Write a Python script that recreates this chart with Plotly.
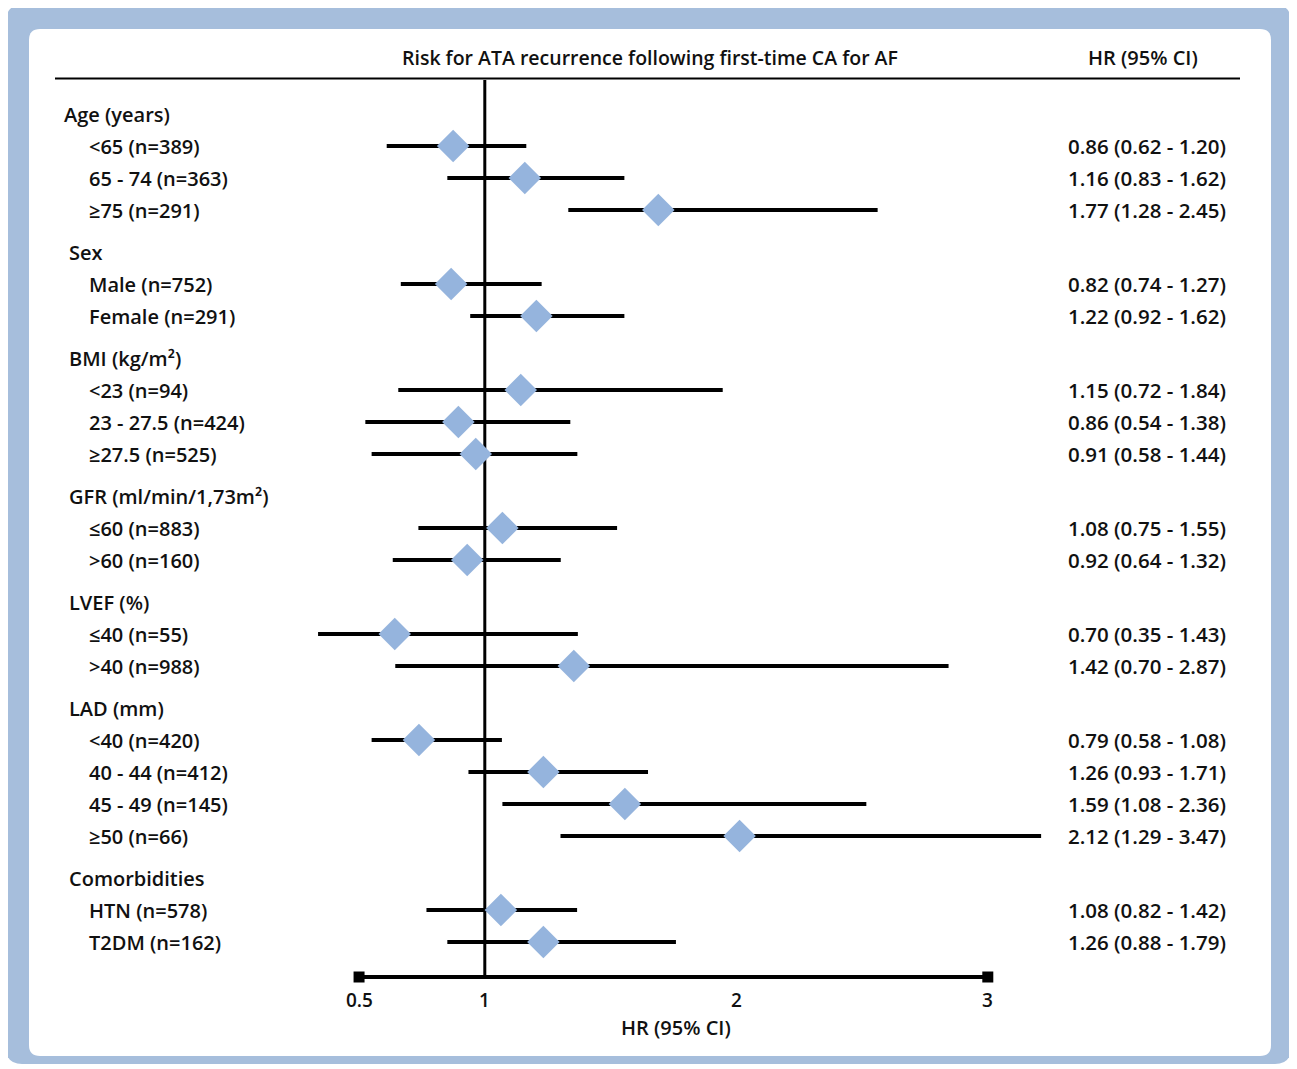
import plotly.graph_objects as go

# page offset of the plot div (browser default body margin)
OX, OY = 8, 8
REF_W, REF_H = 1297, 1069
W, H = REF_W - OX, REF_H - OY

# ---------------- data ----------------
title_text = "Risk for ATA recurrence following first-time CA for AF"
hr_header = "HR (95% CI)"
axis_title = "HR (95% CI)"

group_names = ["Age (years)", "Sex", "BMI (kg/m²)", "GFR (ml/min/1,73m²)",
               "LVEF (%)", "LAD (mm)", "Comorbidities"]
group_sizes = [3, 2, 3, 2, 2, 4, 2]

subgroup_labels = [
    "&lt;65 (n=389)", "65 - 74 (n=363)", "≥75 (n=291)",
    "Male (n=752)", "Female (n=291)",
    "&lt;23 (n=94)", "23 - 27.5 (n=424)", "≥27.5 (n=525)",
    "≤60 (n=883)", "&gt;60 (n=160)",
    "≤40 (n=55)", "&gt;40 (n=988)",
    "&lt;40 (n=420)", "40 - 44 (n=412)", "45 - 49 (n=145)", "≥50 (n=66)",
    "HTN (n=578)", "T2DM (n=162)",
]

# values as drawn on the chart's HR axis
hr_point = [0.874, 1.159, 1.690,
            0.866, 1.205,
            1.143, 0.895, 0.964,
            1.070, 0.930,
            0.642, 1.354,
            0.738, 1.233, 1.557, 2.013,
            1.064, 1.233]
ci_low = [0.610, 0.851, 1.332,
          0.666, 0.942,
          0.656, 0.525, 0.550,
          0.736, 0.634,
          0.337, 0.644,
          0.550, 0.935, 1.070, 1.301,
          0.768, 0.851]
ci_high = [1.165, 1.555, 2.562,
           1.226, 1.555,
           1.946, 1.340, 1.368,
           1.526, 1.302,
           1.370, 2.844,
           1.068, 1.649, 2.517, 3.212,
           1.367, 1.760]

hr_labels = [
    "0.86 (0.62 - 1.20)", "1.16 (0.83 - 1.62)", "1.77 (1.28 - 2.45)",
    "0.82 (0.74 - 1.27)", "1.22 (0.92 - 1.62)",
    "1.15 (0.72 - 1.84)", "0.86 (0.54 - 1.38)", "0.91 (0.58 - 1.44)",
    "1.08 (0.75 - 1.55)", "0.92 (0.64 - 1.32)",
    "0.70 (0.35 - 1.43)", "1.42 (0.70 - 2.87)",
    "0.79 (0.58 - 1.08)", "1.26 (0.93 - 1.71)", "1.59 (1.08 - 2.36)", "2.12 (1.29 - 3.47)",
    "1.08 (0.82 - 1.42)", "1.26 (0.88 - 1.79)",
]

axis_ticks = [0.5, 1, 2, 3]
axis_tick_labels = ["0.5", "1", "2", "3"]
ref_value = 1

# ---------------- layout helpers ----------------
FONT = "Open Sans"
FW = 600
TXT = "#111111"
BLUE_BORDER = "#a6bedc"
DIAMOND = "#95b4dd"

# x scale: value 1 at page px 484.8, 251.5 px per unit
PX_PER_UNIT = 251.5
X_ONE_PX = 484.8 - OX
xmin = 1 - X_ONE_PX / PX_PER_UNIT
xmax = 1 + (W - X_ONE_PX) / PX_PER_UNIT

START_Y = 114
ITEM_STEP = 32
GROUP_GAP = 42
header_x = [62, 67, 67, 67, 67, 67, 67]
ITEM_X = 86.5

header_y = []
row_y = []
y = START_Y
for gi, n in enumerate(group_sizes):
    if gi > 0:
        y += GROUP_GAP
    header_y.append(y)
    for k in range(n):
        y += ITEM_STEP
        row_y.append(y)

AXIS_Y = 977


def px(x):
    return (x - OX) / W


def py(yy):
    return 1 - (yy - OY) / H


def rounded_rect(x0, y0, x1, y1, r):
    rx, ry = r / W, r / H
    X0, X1 = px(x0), px(x1)
    Y0, Y1 = py(y0), py(y1)  # Y0 top (larger)
    return (f"M {X0+rx},{Y0} L {X1-rx},{Y0} Q {X1},{Y0} {X1},{Y0-ry} "
            f"L {X1},{Y1+ry} Q {X1},{Y1} {X1-rx},{Y1} "
            f"L {X0+rx},{Y1} Q {X0},{Y1} {X0},{Y1+ry} "
            f"L {X0},{Y0-ry} Q {X0},{Y0} {X0+rx},{Y0} Z")


fig = go.Figure()

# CI lines
ci_x, ci_y = [], []
for lo, hi, yy in zip(ci_low, ci_high, row_y):
    ci_x += [lo, hi, None]
    ci_y += [yy, yy, None]
fig.add_trace(go.Scatter(x=ci_x, y=ci_y, mode="lines",
                         line=dict(color="black", width=4),
                         hoverinfo="skip", showlegend=False))

# reference vertical line at HR = 1
fig.add_trace(go.Scatter(x=[ref_value, ref_value], y=[80, AXIS_Y], mode="lines",
                         line=dict(color="black", width=3),
                         hoverinfo="skip", showlegend=False))

# axis line with square ends
fig.add_trace(go.Scatter(x=[axis_ticks[0], axis_ticks[-1]], y=[AXIS_Y, AXIS_Y],
                         mode="lines+markers",
                         line=dict(color="black", width=4),
                         marker=dict(symbol="square", size=11, color="black"),
                         hoverinfo="skip", showlegend=False))

# point estimates
fig.add_trace(go.Scatter(x=hr_point, y=row_y, mode="markers",
                         marker=dict(symbol="diamond", size=25, color=DIAMOND,
                                     line=dict(width=0)),
                         showlegend=False))

annotations = []


def txt(text, x, yy, xref="paper", size=20, xanchor="left"):
    annotations.append(dict(
        text=text, x=x, y=yy, xref=xref, yref="y", xanchor=xanchor, yanchor="middle",
        showarrow=False, font=dict(family=FONT, size=size, color=TXT, weight=FW)))


txt(title_text, px(650), 57, xanchor="center", size=19.5)
txt(hr_header, px(1142.5), 57, xanchor="center", size=20)

for name, hx, hy in zip(group_names, header_x, header_y):
    txt(name, px(hx), hy)
for lab, yy in zip(subgroup_labels, row_y):
    txt(lab, px(ITEM_X), yy)
for lab, yy in zip(hr_labels, row_y):
    txt(lab, px(1066), yy, size=20.5)

for tv, tl in zip(axis_ticks, axis_tick_labels):
    txt(tl, tv, 1000, xref="x", size=19, xanchor="center")
txt(axis_title, 1.76, 1027, xref="x", size=20, xanchor="center")

shapes = [
    dict(type="path", path=rounded_rect(6, 5, 1291, 1064, 16), xref="paper", yref="paper",
         fillcolor=BLUE_BORDER, line=dict(width=0), layer="below"),
    dict(type="path", path=rounded_rect(29, 29, 1271, 1056, 11), xref="paper", yref="paper",
         fillcolor="white", line=dict(width=0), layer="below"),
    dict(type="line", x0=px(55), x1=px(1240), y0=py(78.5), y1=py(78.5),
         xref="paper", yref="paper", line=dict(color="black", width=2)),
]

fig.update_layout(
    width=W, height=H,
    margin=dict(l=0, r=0, t=0, b=0),
    paper_bgcolor="white", plot_bgcolor="rgba(0,0,0,0)",
    xaxis=dict(range=[xmin, xmax], visible=False, fixedrange=True),
    yaxis=dict(range=[OY + H, OY], visible=False, fixedrange=True),
    annotations=annotations,
    shapes=shapes,
    showlegend=False,
)

fig.write_html("out.html")
